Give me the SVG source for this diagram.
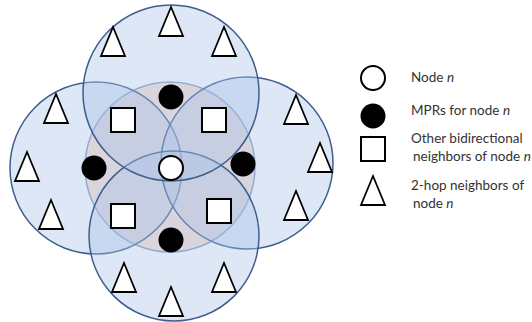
<svg xmlns="http://www.w3.org/2000/svg" width="532" height="322" viewBox="0 0 532 322">
<style>
.range{fill:#aac3e9;fill-opacity:0.4;stroke:#3d5f8e;stroke-width:1.5}
.core{fill:#fbe2d6;stroke:#7f9cc4;stroke-width:1.5}
.mpr{fill:#000}
.self{fill:#fff;stroke:#000;stroke-width:2}
.nb{fill:#fff;stroke:#000;stroke-width:2}
.hop{fill:#fff;stroke:#000;stroke-width:1.8}
.lbl{font-family:Lato,"Liberation Sans",sans-serif;font-size:13.5px;fill:#333}
.it{font-style:italic}
</style>
<defs>
<polygon id="tri" points="0,0 12,29 -12,29"/>
</defs>
<rect width="532" height="322" fill="#fff"/>
<g id="connectors"></g>
<g id="ranges">
<circle id="range-core" class="core" cx="170" cy="167" r="85"/>
<circle id="range-left" class="range" cx="96" cy="168" r="86"/>
<circle id="range-right" class="range" cx="247" cy="163" r="86"/>
<circle id="range-bottom" class="range" cx="174" cy="236" r="85"/>
<circle id="range-top" class="range" cx="171" cy="93" r="88"/>
</g>
<g id="node-n"><circle class="self" cx="171" cy="168" r="12"/></g>
<g id="mpr-top"><circle class="mpr" cx="171" cy="97" r="12.5"/></g>
<g id="mpr-left"><circle class="mpr" cx="94" cy="168" r="12.5"/></g>
<g id="mpr-right"><circle class="mpr" cx="243" cy="164" r="12.5"/></g>
<g id="mpr-bottom"><circle class="mpr" cx="171" cy="240" r="12.5"/></g>
<g id="nb-tl"><rect class="nb" x="111" y="108" width="24" height="24"/></g>
<g id="nb-tr"><rect class="nb" x="202" y="108" width="24" height="24"/></g>
<g id="nb-bl"><rect class="nb" x="111" y="204" width="24" height="24"/></g>
<g id="nb-br"><rect class="nb" x="207" y="199" width="24" height="24"/></g>
<g id="hop-t1"><use href="#tri" class="hop" x="171" y="7"/></g>
<g id="hop-t2"><use href="#tri" class="hop" x="113" y="27"/></g>
<g id="hop-t3"><use href="#tri" class="hop" x="224" y="27"/></g>
<g id="hop-l1"><use href="#tri" class="hop" x="56" y="94"/></g>
<g id="hop-l2"><use href="#tri" class="hop" x="27" y="152"/></g>
<g id="hop-l3"><use href="#tri" class="hop" x="51" y="200"/></g>
<g id="hop-r1"><use href="#tri" class="hop" x="296" y="95"/></g>
<g id="hop-r2"><use href="#tri" class="hop" x="320" y="143"/></g>
<g id="hop-r3"><use href="#tri" class="hop" x="296" y="191"/></g>
<g id="hop-b1"><use href="#tri" class="hop" x="124" y="263"/></g>
<g id="hop-b2"><use href="#tri" class="hop" x="224" y="263"/></g>
<g id="hop-b3"><use href="#tri" class="hop" x="171" y="287"/></g>
<g id="legend">
<g id="legend-node"><circle class="self" cx="373" cy="78" r="12"/><text class="lbl" x="411" y="82">Node <tspan class="it">n</tspan></text></g>
<g id="legend-mpr"><circle class="mpr" cx="373" cy="116" r="12.5"/><text class="lbl" x="411" y="115">MPRs for node <tspan class="it">n</tspan></text></g>
<g id="legend-nb"><rect class="nb" x="361" y="137" width="24" height="24"/><text class="lbl" x="411" y="143">Other bidirectional</text><text class="lbl" x="413" y="161">neighbors of node <tspan class="it">n</tspan></text></g>
<g id="legend-hop"><use href="#tri" class="hop" x="373" y="176"/><text class="lbl" x="411" y="190">2-hop neighbors of</text><text class="lbl" x="413" y="208">node <tspan class="it">n</tspan></text></g>
</g>
</svg>
